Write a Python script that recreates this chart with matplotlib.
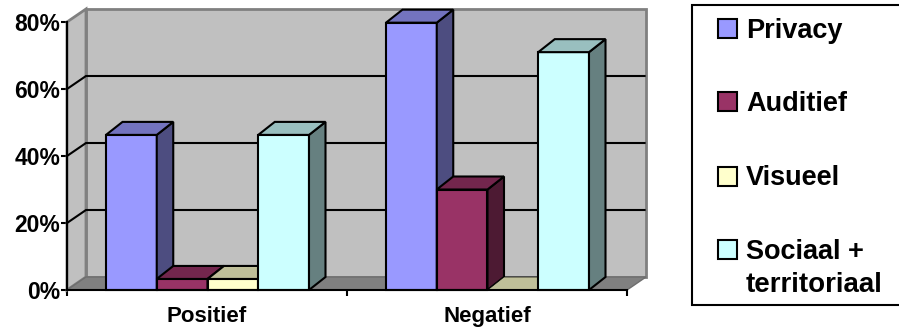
import numpy as np
import matplotlib
matplotlib.use('Agg')
import matplotlib.pyplot as plt
from matplotlib.patches import Polygon, Rectangle

plt.rcParams['font.family'] = ['Liberation Sans', 'DejaVu Sans']
plt.rcParams['font.weight'] = 'bold'

# Data
categories = ['Positief', 'Negatief']
series_names = ['Privacy', 'Auditief', 'Visueel', 'Sociaal +\nterritoriaal']
privacy = [46.3, 79.8]
auditief = [3.3, 30.0]
visueel = [3.3, 0.0]
sociaal = [46.3, 71.0]
yticks = [0, 20, 40, 60, 80]

# front, top, side colours per series
front = ['#9999FF', '#993366', '#FFFFCC', '#CCFFFF']
top = ['#7373BF', '#73264D', '#BFBF99', '#99BFBF']
side = ['#4D4D80', '#4D1A33', '#808066', '#668080']

W, H = 899, 332
fig = plt.figure(figsize=(W / 100, H / 100), dpi=100, facecolor='white')
# axes: 0% at y=290, 80% at y=22, x from 67 to 627
ax = fig.add_axes([67 / W, 1 - 290 / H, 560 / W, 268 / H])
ax.set_xlim(0, 2)
ax.set_ylim(0, 80)
ax.patch.set_visible(False)
for s in ax.spines.values():
    s.set_visible(False)

xpx = 2 / 560     # data units per pixel
ypx = 80 / 268
wall_dx, wall_dy = 19 * xpx, 13 * ypx
bar_dx, bar_dy = 16.5 * xpx, 13 * ypx
bar_w = 50.75 * xpx

def poly(pts, fc, ec='black', lw=1.5, z=2):
    ax.add_patch(Polygon(pts, closed=True, fc=fc, ec=ec, lw=lw, zorder=z,
                         clip_on=False, joinstyle='miter'))

# walls and floor
poly([(wall_dx, wall_dy), (2 + wall_dx, wall_dy), (2 + wall_dx, 80 + wall_dy), (wall_dx, 80 + wall_dy)],
     '#C0C0C0', ec='#808080', lw=2)
poly([(0, 0), (wall_dx, wall_dy), (wall_dx, 80 + wall_dy), (0, 80)], '#C0C0C0', ec='#808080', lw=2)
poly([(0, 0), (wall_dx, wall_dy), (2 + wall_dx, wall_dy), (2, 0)], '#808080', ec='#6E6E6E', lw=1)

for v in yticks[1:-1]:
    ax.plot([0, wall_dx, 2 + wall_dx - 0.005], [v, v + wall_dy, v + wall_dy], color='black', lw=1.5,
            zorder=3, clip_on=False, solid_joinstyle='miter')

# bars
all_series = [privacy, auditief, visueel, sociaal]
for c in range(len(categories)):
    x0 = c + 0.5 - 2 * bar_w + 0.5 * xpx
    for i, vals in enumerate(all_series):
        v = vals[c]
        x = x0 + i * bar_w
        if v > 0:
            poly([(x, 0), (x + bar_w, 0), (x + bar_w, v), (x, v)], front[i], z=4 + i)
            poly([(x + bar_w, 0), (x + bar_w + bar_dx, bar_dy), (x + bar_w + bar_dx, v + bar_dy), (x + bar_w, v)],
                 side[i], z=4 + i)
        poly([(x, v), (x + bar_w, v), (x + bar_w + bar_dx, v + bar_dy), (x + bar_dx, v + bar_dy)],
             top[i], z=4 + i, lw=1.5 if v > 0 else 0.5)

# axes lines and ticks
ax.plot([0, 0], [0, 80], color='black', lw=1.5, zorder=10, clip_on=False)
ax.plot([0, 2], [0, 0], color='black', lw=1.5, zorder=10, clip_on=False)
ax.set_yticks(yticks)
ax.set_yticklabels(['%d%%' % v for v in yticks], fontsize=16.5, fontweight='bold')
ax.set_xticks([0, 1, 2])
ax.set_xticklabels([])
ax.tick_params(axis='both', length=4.5, width=1.5, color='black', pad=0.5)
for c, name in enumerate(categories):
    ax.text(c + 0.5, -9.6, name, ha='center', va='baseline', fontsize=16, fontweight='bold', clip_on=False)

# legend drawn in pixel coordinates
lg = fig.add_axes([0, 0, 1, 1])
lg.set_xlim(0, W)
lg.set_ylim(H, 0)
lg.axis('off')
lg.patch.set_visible(False)
lg.add_patch(Rectangle((692, 5), 300, 300, fc='white', ec='black', lw=1.5, clip_on=True))
swatch_y = [19, 92, 167, 240]
text_y = [38, 111, 185, 259]
for i, name in enumerate(series_names):
    lg.add_patch(Rectangle((718, swatch_y[i]), 19, 19, fc=front[i], ec='black', lw=1.5))
    lg.text(746, text_y[i], name.split('\n')[0], fontsize=19.5, fontweight='bold', va='baseline')
lg.text(746, 292, 'territoriaal', fontsize=20, fontweight='bold', va='baseline')

fig.savefig('out.png', dpi=100)
